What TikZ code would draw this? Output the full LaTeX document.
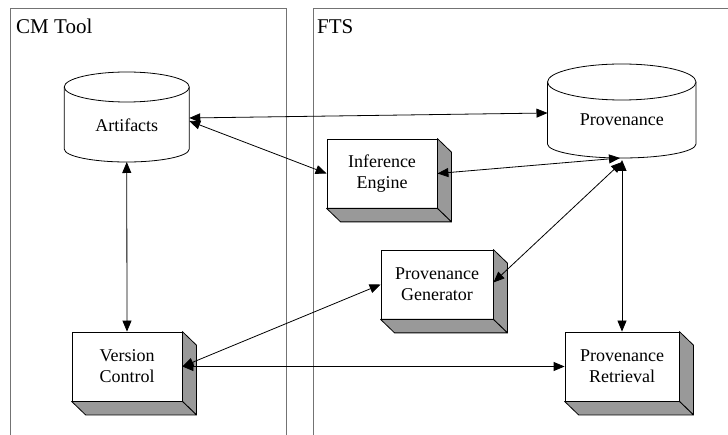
\documentclass[tikz,border=0pt]{standalone}
\usepackage{fontspec}
\setmainfont{Liberation Serif}
\usetikzlibrary{arrows.meta,calc}
\tikzset{
  panel/.style={draw=black!55, line width=0.9pt},
  paneltitle/.style={font=\fontsize{21}{24}\selectfont, anchor=base west, inner sep=0pt},
  slab/.style={draw, fill=white, line width=0.8pt, align=center, inner sep=0pt,
    font=\fontsize{18}{21}\selectfont},
  slabside/.style={draw, fill=black!40, line width=0.8pt, line join=round},
  drum/.style={draw, fill=white, line width=0.8pt},
  drumbody/.style={inner sep=0pt, outer sep=0pt},
  drumtext/.style={font=\fontsize{18}{21}\selectfont, inner sep=0pt},
  link/.style={line width=0.8pt,
    {Triangle[length=11pt,width=9pt]}-{Triangle[length=11pt,width=9pt]}},
}
\begin{document}
\begin{tikzpicture}[x=1pt,y=1pt]
\useasboundingbox (0,0) rectangle (728,-435);
\fill[white] (0,0) rectangle (728,-435);

% the two system panels
\draw[panel] (10,-435) -- (10,-8) -- (286,-8) -- (286,-435);
\draw[panel] (313,-435) -- (313,-8) -- (728,-8);
\node[paneltitle] (cmtitle) at (16,-34) {CM Tool};
\node[paneltitle] (ftstitle) at (317,-34) {FTS};

% data stores drawn as cylinders
\filldraw[drum] (64.25,-87) -- (64.25,-149)
  arc[start angle=180,end angle=360,x radius=62.5,y radius=13] -- (189.25,-87);
\filldraw[drum] (126.75,-87) ellipse[x radius=62.5,y radius=15];
\node[drumbody, minimum width=125, minimum height=62] (art) at (126.75,-118) {};
\node[drumtext] (artlabel) at (126.75,-125) {Artifacts};
\coordinate (artbot) at (126.75,-162);

\filldraw[drum] (547.5,-82) -- (547.5,-144)
  arc[start angle=180,end angle=360,x radius=74.25,y radius=14] -- (696,-82);
\filldraw[drum] (621.75,-82) ellipse[x radius=74.25,y radius=18];
\node[drumbody, minimum width=148.5, minimum height=62] (prov) at (621.75,-113) {};
\node[drumtext] (provlabel) at (621.75,-120) {Provenance};
\coordinate (provinA) at (620,-158);
\coordinate (provinB) at (622,-162);
\coordinate (provinC) at (622,-160);

% components drawn as raised blocks
\node[slab, minimum width=110, minimum height=69] (inf) at (382,-173.5) {Inference\\Engine};
\node[slab, minimum width=110, minimum height=69] (ver) at (127,-366.5) {Version\\Control};
\node[slab, minimum width=112, minimum height=69] (gen) at (437,-284.5) {Provenance\\Generator};
\node[slab, minimum width=114, minimum height=69] (ret) at (622,-366.5) {Provenance\\Retrieval};
\foreach \n in {inf,ver,gen,ret}{
  \filldraw[slabside] (\n.north east) -- ++(14,-13.5)
    -- ($(\n.south east)+(14,-13.5)$) -- (\n.south east) -- cycle;
  \filldraw[slabside] (\n.south west) -- (\n.south east)
    -- ++(14,-13.5) -- ($(\n.south west)+(14,-13.5)$) -- cycle;
}

% connectors
\draw[link] (art.east) -- (prov.west);
\draw[link] ([yshift=-3pt]art.east) -- (inf.west);
\draw[link] (inf.east) -- (provinA);
\draw[link] ([yshift=2pt]gen.east) -- (provinB);
\draw[link] (ret.north) -- (provinC);
\draw[link] (artbot) -- (ver.north);
\draw[link] (ver.east) -- (gen.west);
\draw[link] (ver.east) -- (ret.west);
\end{tikzpicture}
\end{document}
